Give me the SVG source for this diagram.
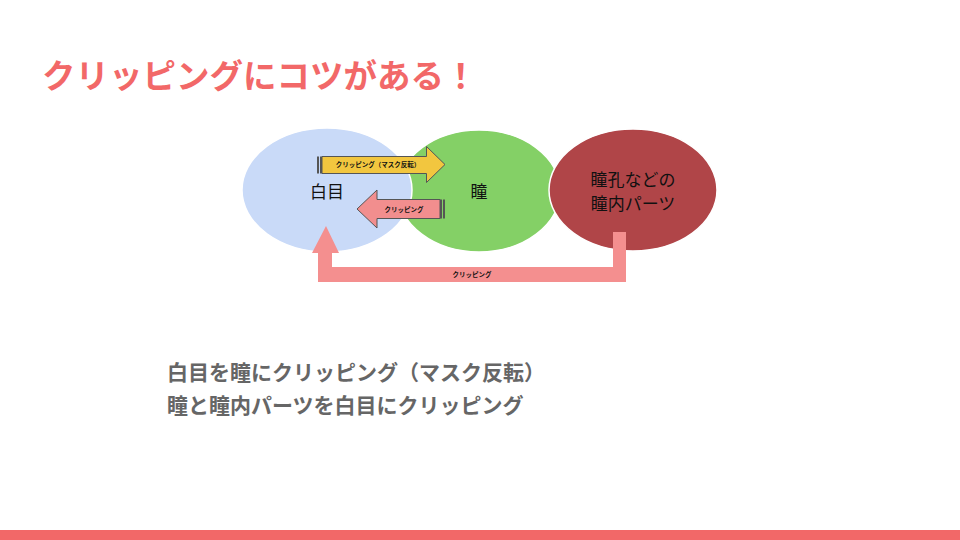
<svg xmlns="http://www.w3.org/2000/svg" width="960" height="540" viewBox="0 0 960 540">
<style>
.jp{font-family:"Noto Sans CJK JP","Noto Sans",sans-serif}
.lbl{font-size:17px;fill:#111;text-anchor:middle}
.sm{font-size:6.5px;font-weight:bold;fill:#111;text-anchor:middle}
.arr{stroke:#555;stroke-width:1}
</style>
<rect width="960" height="540" fill="#fff"/>
<text class="jp" x="42" y="88" font-size="33.5" font-weight="bold" fill="#f26868">クリッピングにコツがある！</text>
<g id="node-green"><ellipse cx="479" cy="191" rx="81" ry="61" fill="#84d066" stroke="#fff" stroke-width="1.5"/><text class="jp lbl" x="479" y="198">瞳</text></g>
<g id="node-white"><ellipse cx="327" cy="190" rx="85" ry="62" fill="#c9daf8" stroke="#fff" stroke-width="1.5"/><text class="jp lbl" x="327" y="198">白目</text></g>
<g id="node-red"><ellipse cx="633" cy="190" rx="84" ry="61" fill="#b04548" stroke="#fff" stroke-width="1.5"/><text class="jp lbl" x="633" y="186" font-size="16">瞳孔などの</text><text class="jp lbl" x="633" y="209.5" font-size="16">瞳内パーツ</text></g>
<g id="connectors">
<g id="arrow-mask">
<path class="arr" d="M322,156.5 H426.5 V146.5 L445,164.5 L426.5,182.5 V173.5 H322 Z" fill="#f2c63f"/>
<rect x="317" y="156.5" width="2" height="17" fill="#555"/><rect x="320" y="156.5" width="2" height="17" fill="#555"/>
<text class="jp sm" x="378" y="167">クリッピング（マスク反転）</text>
</g>
<g id="arrow-clip">
<path class="arr" d="M440,199.5 H377 V190 L357,209 L377,228 V218.5 H440 Z" fill="#f28e8e"/>
<rect x="440" y="199.5" width="2" height="19" fill="#555"/><rect x="443" y="199.5" width="2" height="19" fill="#555"/>
<text class="jp sm" x="404" y="212">クリッピング</text>
</g>
<g id="arrow-u">
<path d="M613,232 H626 V282 H318 V253 H312 L326,226 L339,253 H332 V267 H613 Z" fill="#f48f8f"/>
<text class="jp sm" x="472" y="277">クリッピング</text>
</g>
</g>
<g class="jp" font-size="21" font-weight="bold" fill="#666">
<text x="167" y="380">白目を瞳にクリッピング（マスク反転）</text>
<text x="167" y="413">瞳と瞳内パーツを白目にクリッピング</text>
</g>
<rect x="0" y="530" width="960" height="10" fill="#f26868"/>
</svg>
